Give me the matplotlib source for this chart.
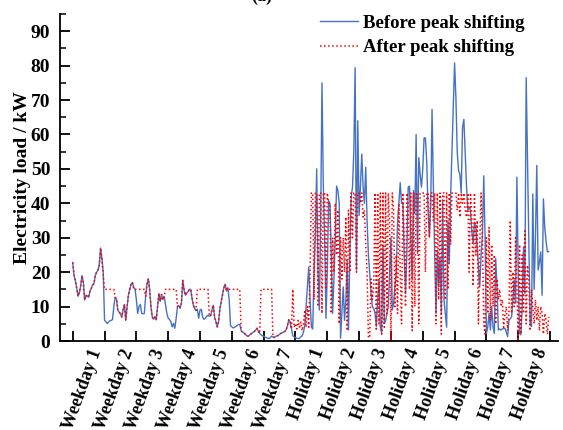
import matplotlib
matplotlib.use("Agg")
import matplotlib.pyplot as plt
from matplotlib.ticker import FixedLocator, MultipleLocator

plt.rcParams['font.family'] = ['Liberation Serif', 'DejaVu Serif']
plt.rcParams['font.weight'] = 'bold'

day_labels = ["Weekday 1", "Weekday 2", "Weekday 3", "Weekday 4", "Weekday 5",
              "Weekday 6", "Weekday 7", "Holiday 1", "Holiday 2", "Holiday 3",
              "Holiday 4", "Holiday 5", "Holiday 6", "Holiday 7", "Holiday 8"]

before_weekdays = [
    22.8, 19, 17.5, 15.4, 13, 14, 16, 19, 17, 11.9, 13.3, 13, 12.7, 14.5, 15.3, 16.3, 16.6, 19, 20, 20.5, 22, 27, 24, 20,
    6, 5.6, 5.1, 5.5, 5.9, 6, 6.2, 10, 12.7, 12.2, 9, 8.4, 7.9, 7.0, 9, 10.6, 6, 10, 13.3, 15, 16.5, 17, 15.6, 15,
    12, 8, 10, 10.6, 8, 7.9, 8, 13, 16.5, 18.1, 15, 10, 7, 6.3, 7, 6.2, 10, 13.8, 11.5, 13.5, 12, 13, 10.5, 8,
    6.6, 6.3, 5.6, 4.1, 5.1, 3.7, 6.6, 10, 10.3, 9.6, 11, 17.6, 14.8, 13.3, 14, 14.3, 15, 15, 12.4, 10.4, 9.4, 8.9, 9.2, 6.6,
    9, 9.2, 6.9, 6.3, 6.6, 7.2, 7.5, 7.2, 7.4, 9, 10.4, 6.9, 5.6, 4.1, 5.6, 9.4, 11.5, 13.5, 15.5, 16.5, 14.5, 15.5, 12, 4.5,
    4.1, 3.8, 4, 4.2, 4.5, 4.8, 4.8, 3, 2.6, 2.4, 2, 1.6, 1.4, 1.6, 1.9, 2.2, 2.5, 2.8, 3.2, 3.7, 2.8, 2.2, 1.8, 1.5,
    1.4, 1.1, 1.0, 0.8, 0.7, 1.0, 1.4, 1.2, 1.0, 1.3, 1.5, 1.6, 2.0, 2.2, 2.4, 2.6, 2.8, 3.3, 4.5, 6.2, 5.5, 3.5, 1.5, 1.2,
]
before_holidays = [
    1.0, 0.8, 0.7, 0.8, 1.2, 1.5, 2.5, 4.5, 10, 16, 21.5, 12, 4, 3.5, 20, 31, 50, 20, 9, 35, 75, 45, 30, 6.6,
    20, 40.8, 40, 25, 8, 18, 30, 45, 43.7, 40, 0.8, 8, 15.7, 6, 12, 23.5, 3.2, 25, 41.8, 44.7, 55, 79.4, 20.6, 64,
    36.5, 45, 54.3, 44.7, 40, 50.5, 35, 25, 19.6, 14, 9.9, 9.5, 8, 4.2, 12, 17.7, 4, 2.3, 27.8, 5.1, 6, 8, 10, 20,
    30, 9, 11, 16, 20, 35, 40, 46, 40, 39.8, 25, 13.8, 25, 44.7, 45, 30, 17.7, 43.7, 37, 60, 25.4, 53.3, 48.5, 44.7,
    50, 59, 59, 52, 38, 30.2, 39, 67.3, 45, 25, 8, 26.4, 15.7, 24.4, 8, 40.8, 12, 8, 4, 35, 22.5, 41.8, 55, 67.8,
    80.8, 70.7, 55, 49.5, 48.5, 43, 62, 64.4, 55, 45, 38, 39, 38, 32, 28.3, 34.5, 33, 28, 21.5, 15.7, 25, 31, 48, 30,
    2.2, 4, 8, 3.2, 10, 4, 2.2, 24, 15.7, 3.2, 3.5, 3.2, 3.5, 3.6, 3.7, 2.5, 1.3, 6, 6.5, 7, 12, 17.7, 11, 47.6,
    20, 2.2, 1.8, 10, 27.3, 13.8, 76.5, 53.3, 32, 5.1, 4.2, 42.7, 15, 30, 51, 20.6, 23, 25.9, 13.3, 41.3, 33, 29, 25.9, 26,
]

after_weekdays = [
    22.8, 19, 17.5, 15.4, 13, 14, 16, 19, 17, 11.9, 13.3, 13, 12.7, 14.5, 15.3, 16.3, 16.6, 19, 20, 20.5, 22, 27, 24, 19,
    15, 15, 15, 15, 15, 15, 15, 15, 12.7, 12.2, 9, 8.4, 7.9, 7.0, 9, 10.6, 6, 10, 13.3, 15, 16.5, 17, 15, 15,
    15, 15, 15, 15, 15, 15, 15, 13, 16.5, 18.1, 15, 10, 7, 6.3, 7, 6.2, 10, 13.8, 11.5, 13.5, 12, 13, 15, 15,
    15, 15, 15, 15, 15, 15, 15, 10, 10.3, 9.6, 11, 17.6, 14.8, 13.3, 14, 14.3, 15, 15, 12.4, 10.4, 9.4, 8.9, 15, 15,
    15, 15, 15, 15, 15, 15, 15, 7.2, 7.4, 9, 10.4, 6.9, 5.6, 4.1, 5.6, 9.4, 11.5, 13.5, 15.5, 16.5, 14.5, 15.5, 15, 15,
    15, 15, 15, 15, 15, 15, 15, 3, 2.6, 2.4, 2, 1.6, 1.4, 1.6, 1.9, 2.2, 2.5, 2.8, 3.2, 3.7, 2.8, 2.2, 15, 15,
    15, 15, 15, 15, 15, 15, 15, 1.2, 1.0, 1.3, 1.5, 1.6, 2.0, 2.2, 2.4, 2.6, 2.8, 3.3, 4.5, 6.2, 5.5, 3.5, 15, 4,
]
after_holidays = [
    5, 3.5, 6, 4, 5.5, 3, 5, 9, 4, 10, 4, 20, 43, 43, 12, 43, 43, 10, 43, 43, 8, 43, 43, 15,
    43, 40, 40, 8, 30, 20, 40, 25, 38, 5, 30, 18, 30, 20, 36, 3, 38, 20, 43, 30, 43, 43, 20, 43,
    43, 40, 43, 36, 38, 28, 20, 1, 1, 18, 12, 16, 43, 3, 43, 5, 43, 2, 43, 4, 43, 8, 43, 35,
    0, 43, 38, 10, 25, 8, 40, 20, 5, 43, 30, 10, 43, 40, 15, 43, 3, 43, 10, 43, 43, 5, 43, 43,
    43, 43, 20, 43, 43, 30, 43, 43, 35, 43, 5, 43, 12, 43, 2, 43, 43, 12, 43, 15, 43, 28, 43, 43,
    43, 43, 38, 43, 36, 43, 40, 43, 38, 36, 43, 20, 43, 36, 16, 43, 25, 35, 5, 28, 43, 30, 5, 2,
    30, 8, 33, 6, 28, 10, 25, 5, 18, 12, 15, 10, 12, 4, 8, 10, 3, 8, 35, 8, 20, 10, 30, 15,
    0, 28, 2, 25, 8, 32, 5, 22, 18, 3, 15, 10, 5, 12, 6, 10, 3, 10, 8, 2, 8, 6, 2, 7,
]

before = before_weekdays + before_holidays
after = after_weekdays + after_holidays
hours = list(range(len(before)))

fig = plt.figure(figsize=(5.63, 4.30), dpi=100)
ax = fig.add_axes([60/563, 1 - 341/430, (558-60)/563, (341-14)/430])

ax.plot(hours, before, color='#4472C4', lw=1.0, label='Before peak shifting')
ax.plot(hours, after, color='#FF0000', lw=1.1, ls=':', label='After peak shifting')

ax.set_xlim(-9.6, 366)
ax.set_ylim(0, 95)
ax.spines['top'].set_visible(False)
ax.spines['right'].set_visible(False)
for s in ('left', 'bottom'):
    ax.spines[s].set_linewidth(1.3)

ax.yaxis.set_major_locator(MultipleLocator(10))
ax.yaxis.set_minor_locator(MultipleLocator(5))
ax.xaxis.set_major_locator(FixedLocator([24*i for i in range(16)]))
ax.xaxis.set_major_formatter(plt.NullFormatter())
ax.set_xticks([24*i + 12 for i in range(15)], minor=True)
ax.set_xticklabels(day_labels, minor=True, rotation=70, ha='right',
                   rotation_mode='anchor', fontsize=13, fontweight='bold')
ax.tick_params(axis='x', which='minor', length=0, pad=4)
ax.tick_params(axis='x', which='major', direction='in', length=7, width=1.3)
ax.tick_params(axis='y', which='major', direction='in', length=7, width=1.3,
               labelsize=14, pad=7)
ax.tick_params(axis='y', which='minor', direction='in', length=4, width=1.1)
for lab in ax.get_yticklabels():
    lab.set_fontweight('bold')

ax.set_ylabel('Electricity load / kW', fontsize=14, fontweight='bold', labelpad=0)

leg = ax.legend(loc='upper left', bbox_to_anchor=(307/563, 1 - 1.5/430),
                bbox_transform=fig.transFigure, frameon=False, fontsize=13.5,
                handlelength=2.0, handletextpad=0.3, labelspacing=0.4,
                borderpad=0.2)
for t in leg.get_texts():
    t.set_fontweight('bold')

fig.text(262/563, 1 - 1/430, '(a)', ha='center', va='baseline', fontsize=13, fontweight='bold')

fig.savefig('out.png', dpi=100)
